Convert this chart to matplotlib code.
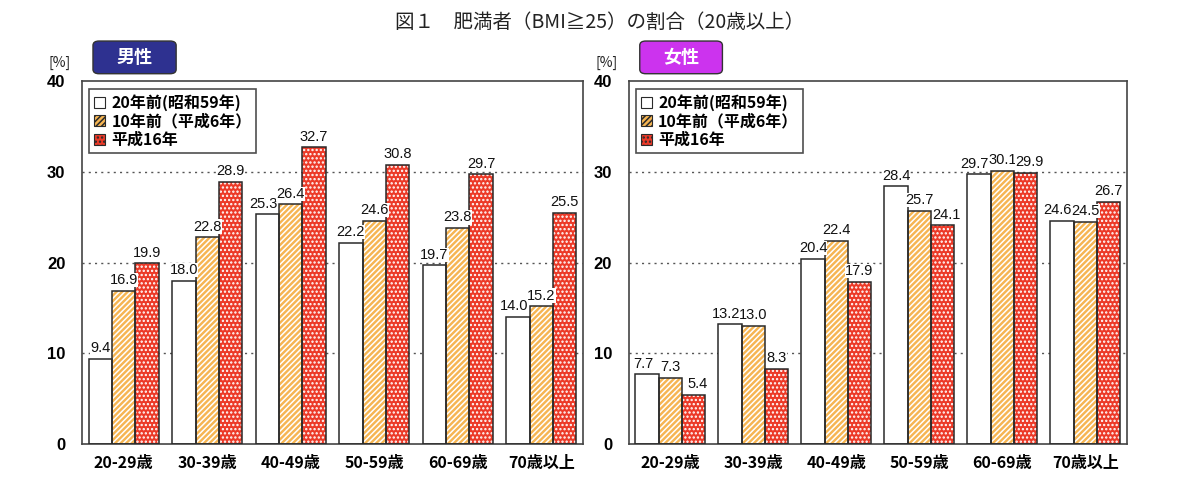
import matplotlib
matplotlib.use("Agg")
import matplotlib.pyplot as plt
from matplotlib.patches import Patch, FancyBboxPatch
import numpy as np

plt.rcParams['font.family'] = ['Noto Sans CJK JP', 'DejaVu Sans']
plt.rcParams['hatch.linewidth'] = 1.1

# data
age_groups = ["20-29歳", "30-39歳", "40-49歳", "50-59歳", "60-69歳", "70歳以上"]
series_names = ["20年前(昭和59年)", "10年前（平成6年）", "平成16年"]

male_1984 = [9.4, 18.0, 25.3, 22.2, 19.7, 14.0]
male_1994 = [16.9, 22.8, 26.4, 24.6, 23.8, 15.2]
male_2004 = [19.9, 28.9, 32.7, 30.8, 29.7, 25.5]

female_1984 = [7.7, 13.2, 20.4, 28.4, 29.7, 24.6]
female_1994 = [7.3, 13.0, 22.4, 25.7, 30.1, 24.5]
female_2004 = [5.4, 8.3, 17.9, 24.1, 29.9, 26.7]

y_ticks = [0, 10, 20, 30, 40]

face_colors = ["white", "#F6B552", "#EC3A28"]
hatches = [None, "//////", "...."]
edge_dark = "#2a2a2a"


def draw_panel(ax, values_list, badge_text, badge_color):
    x = np.arange(len(age_groups))
    w = 0.28
    offsets = [-w, 0, w]
    for k, (vals, off, fc, h) in enumerate(zip(values_list, offsets, face_colors, hatches)):
        ax.bar(x + off, vals, w, color=fc, hatch=h, edgecolor="white",
               linewidth=0, zorder=2)
        ax.bar(x + off, vals, w, fill=False, edgecolor=edge_dark,
               linewidth=1.1, zorder=3)
        for i, (xi, v) in enumerate(zip(x + off, vals)):
            # nudge labels apart when neighbouring bars are about the same height
            shift = 0.0
            if k == 0 and abs(v - values_list[1][i]) < 2:
                shift = -0.05
            if k == 2 and abs(v - values_list[1][i]) < 2:
                shift = 0.05
            ax.text(xi + shift, v + 0.4, f"{v:.1f}", ha="center", va="bottom",
                    fontsize=10.5, family=["Liberation Sans"], color="#111",
                    bbox=dict(facecolor="white", edgecolor="none", pad=0.1),
                    zorder=4)

    ax.set_xlim(-0.5, len(age_groups) - 0.5)
    ax.set_ylim(0, 40)
    ax.set_yticks(y_ticks)
    ax.set_yticklabels([str(t) for t in y_ticks], fontsize=12,
                       fontweight="bold", family=["Liberation Sans"])
    ax.set_xticks(x)
    ax.set_xticklabels(age_groups, fontsize=11.5, fontweight="bold")
    ax.tick_params(axis="both", length=0)
    ax.tick_params(axis="y", pad=12)
    ax.tick_params(axis="x", pad=8)
    for t in (10, 20, 30):
        ax.axhline(t, color="#555", linewidth=1, linestyle=(0, (1.5, 3)),
                   zorder=1)
    for sp in ax.spines.values():
        sp.set_color("#444")
        sp.set_linewidth(1.2)

    handles = [Patch(facecolor=fc, edgecolor=edge_dark, hatch=h, linewidth=0.8)
               for fc, h in zip(face_colors, hatches)]
    leg = ax.legend(handles, series_names, loc="upper left",
                    bbox_to_anchor=(0.014, 0.977),
                    prop=dict(weight="bold", size=11.5),
                    frameon=True, fancybox=False, handlelength=0.7,
                    handleheight=0.7, handletextpad=0.4, labelspacing=0.15,
                    borderpad=0.3, borderaxespad=0)
    leg.get_frame().set_edgecolor("#222")
    leg.get_frame().set_linewidth(1.2)
    leg.set_zorder(5)

    badge = FancyBboxPatch((0.022, 1.02), 0.166, 0.09,
                           boxstyle="round,pad=0,rounding_size=0.012",
                           transform=ax.transAxes, facecolor=badge_color,
                           edgecolor="#333", linewidth=1, clip_on=False)
    ax.add_patch(badge)
    ax.text(0.105, 1.065, badge_text, transform=ax.transAxes, ha="center",
            va="center", color="white", fontsize=13, fontweight="bold")
    ax.text(-0.045, 1.05, "[%]", transform=ax.transAxes, ha="center",
            va="center", fontsize=10, color="#222")


fig = plt.figure(figsize=(12, 5.03), dpi=100)
ax_m = fig.add_axes([0.0683, 0.117, 0.4175, 0.722])
ax_f = fig.add_axes([0.524, 0.117, 0.415, 0.722])

draw_panel(ax_m, [male_1984, male_1994, male_2004], "男性", "#2E3190")
draw_panel(ax_f, [female_1984, female_1994, female_2004], "女性", "#CC33EE")

fig.text(0.5, 0.955, "図１　肥満者（BMI≧25）の割合（20歳以上）", ha="center",
         va="center", fontsize=14, color="#222")

fig.savefig("out.png", dpi=100)
